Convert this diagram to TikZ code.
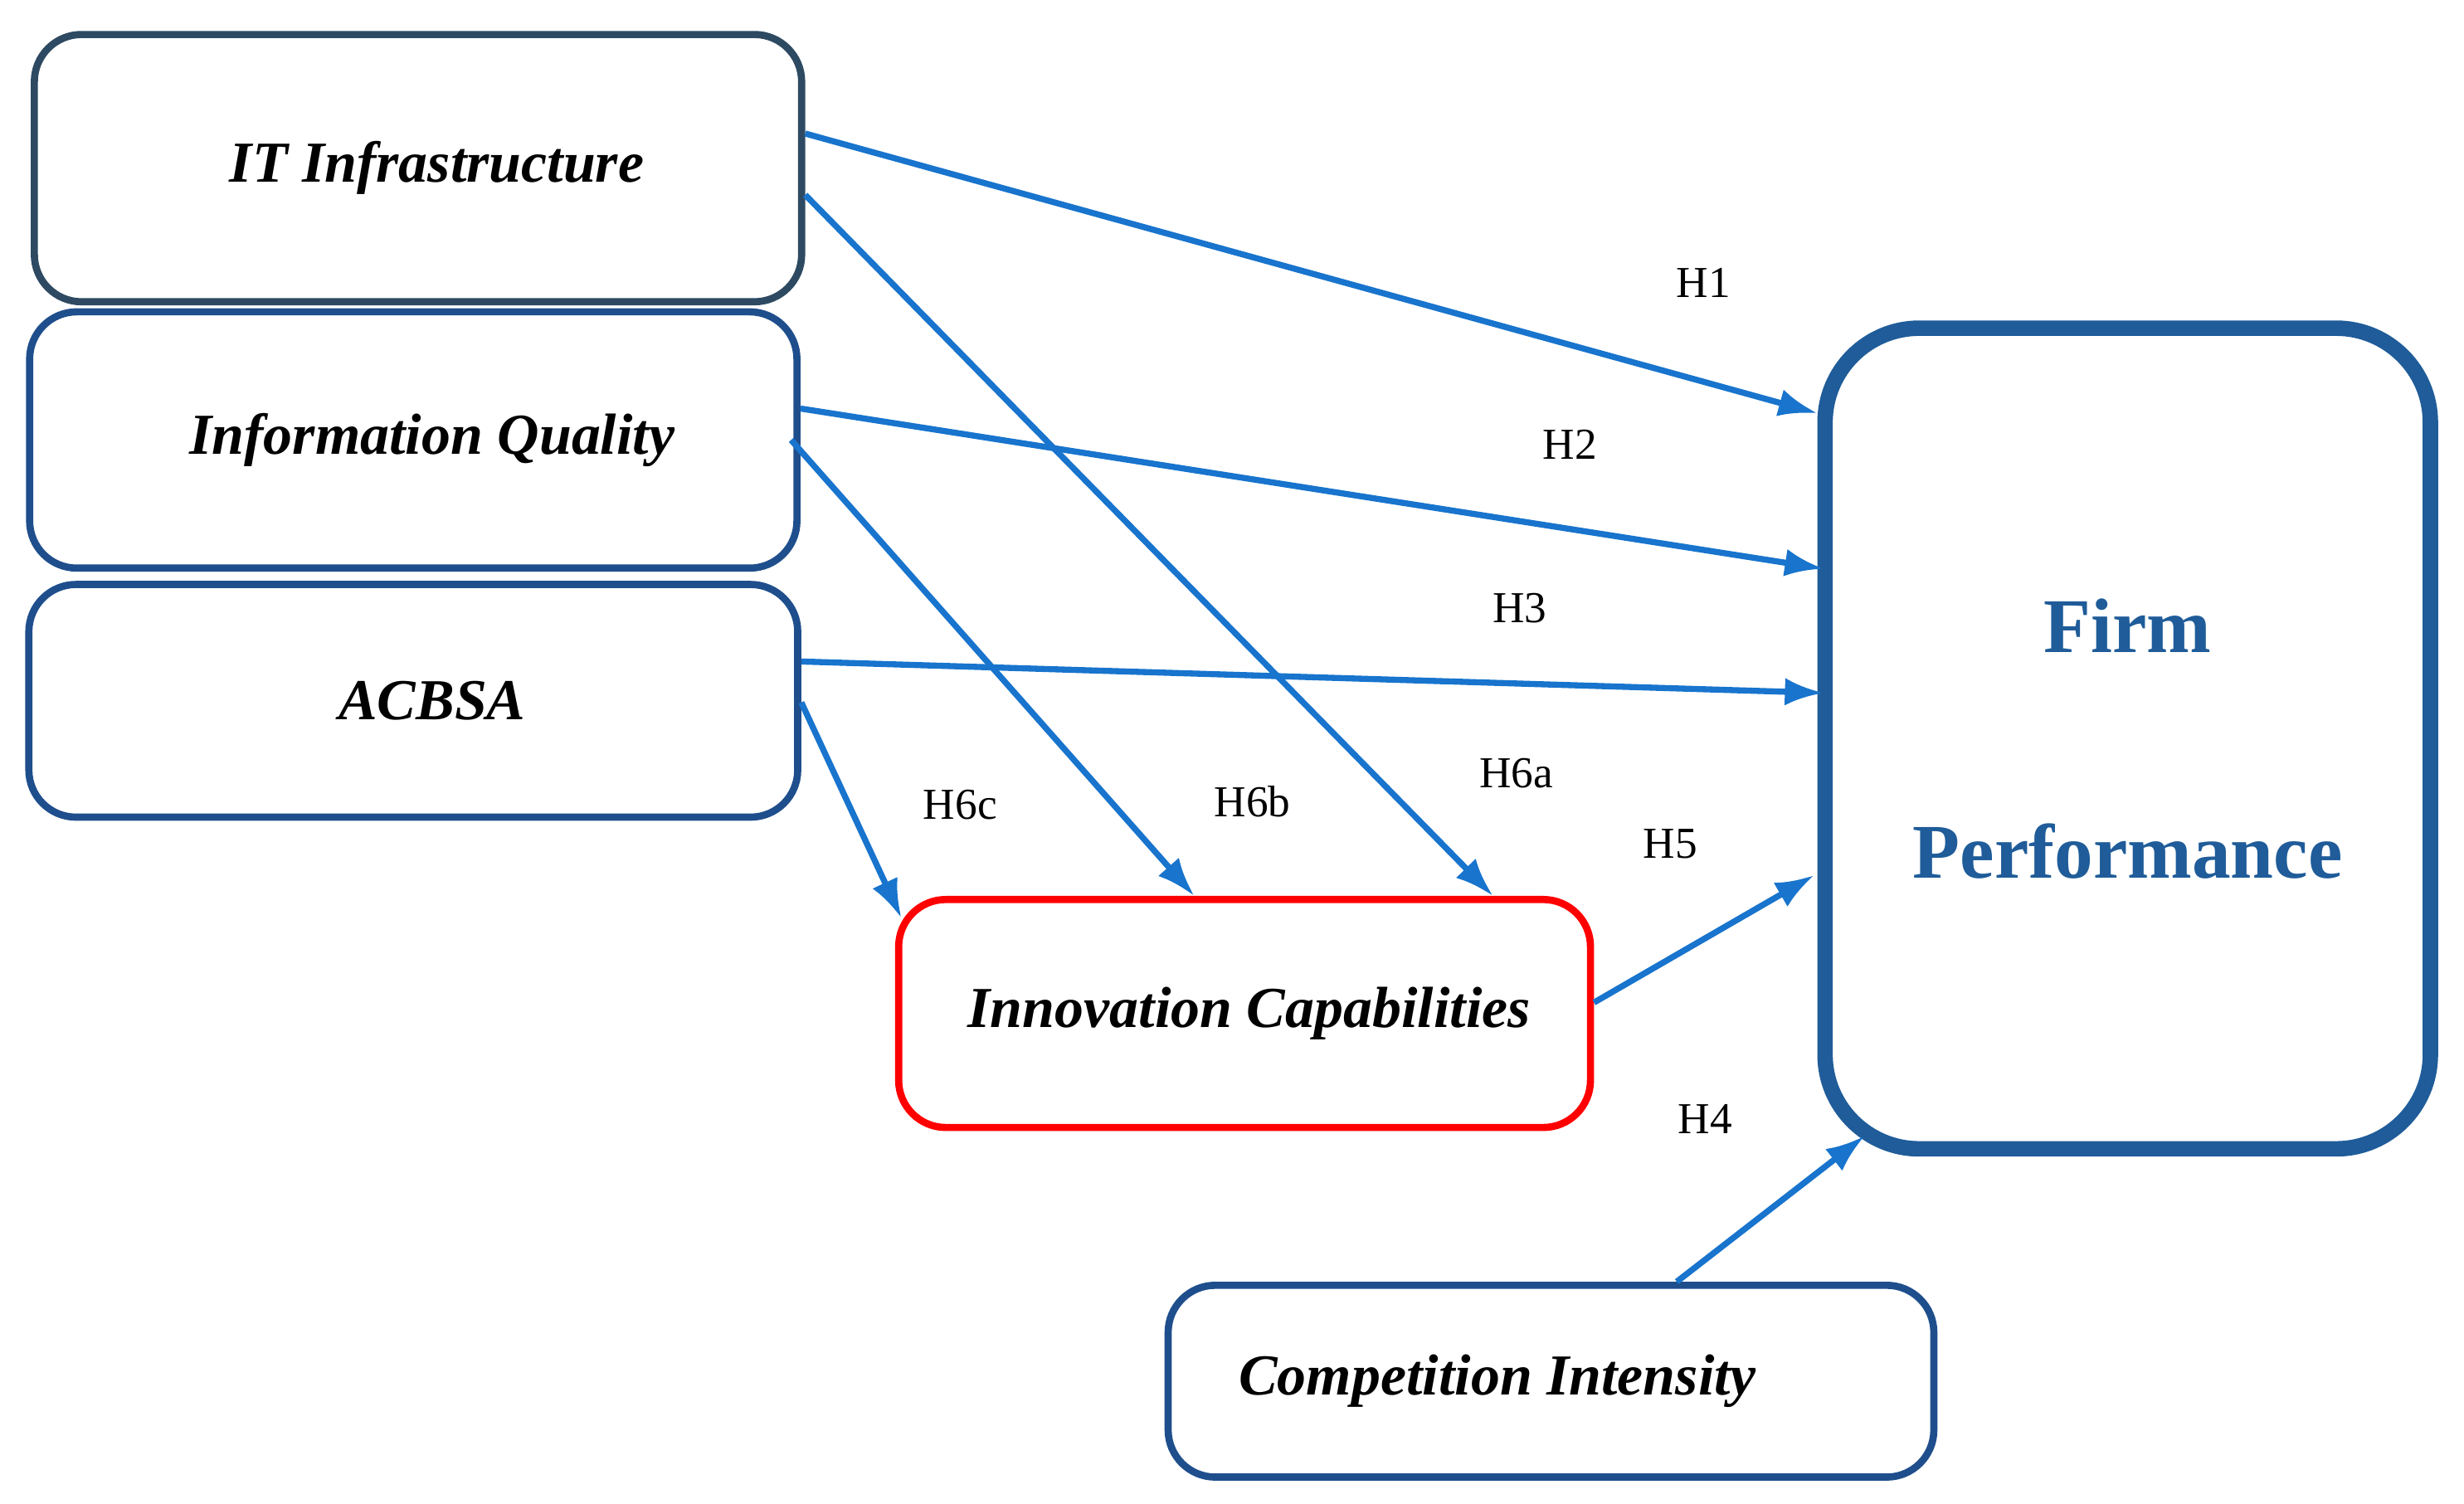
\documentclass[tikz,border=0pt]{standalone}
\usepackage{fontspec}
\setmainfont{Liberation Serif}
\usetikzlibrary{arrows.meta}
\definecolor{arr}{HTML}{1874CD}
\definecolor{bx}{HTML}{1F4E8C}
\definecolor{bx1}{HTML}{2E4A62}
\definecolor{fp}{HTML}{1F5C99}
\begin{document}
\begin{tikzpicture}[x=0.01cm,y=-0.01cm,
 box/.style={draw=bx,line width=1.3pt,rounded corners=0.3cm,inner sep=0pt,font=\fontsize{10.5}{12}\selectfont\bfseries\itshape},
 ar/.style={draw=arr,line width=1.1pt,-{Latex[length=7pt,width=5pt]}},
 lb/.style={font=\fontsize{8}{9}\selectfont}]
\useasboundingbox (0,0) rectangle (1568,957);
\node[box,draw=bx1,minimum width=4.88cm,minimum height=1.70cm] (it) at (266,107) {\raisebox{-0.06cm}{\hspace*{0.24cm}IT Infrastructure}};
\node[box,minimum width=4.88cm,minimum height=1.63cm] (iq) at (263,280) {\raisebox{-0.04cm}{\hspace*{0.24cm}Information Quality}};
\node[box,minimum width=4.89cm,minimum height=1.48cm] (ac) at (263,446) {\hspace*{0.24cm}ACBSA};
\node[box,draw=red,minimum width=4.40cm,minimum height=1.45cm] (ic) at (792,645) {\raisebox{-0.04cm}{\hspace*{0.06cm}Innovation Capabilities}};
\node[box,minimum width=4.87cm,minimum height=1.22cm] (ci) at (987,879) {\raisebox{-0.04cm}{Competition Intensity\hspace*{0.68cm}}};
\node[box,draw=fp,line width=2.8pt,rounded corners=0.6cm,minimum width=3.85cm,minimum height=5.22cm,text=fp,align=center,font=\fontsize{14}{38}\selectfont\bfseries] (fpn) at (1354,470) {Firm\\[0.1cm]Performance};
\draw[ar] ([yshift=0.22cm]it.east) -- ([yshift=-0.59cm]fpn.north west);
\draw[ar] ([yshift=0.2cm]iq.east) -- ([xshift=0.04cm,yshift=1.08cm]fpn.west);
\draw[ar] ([yshift=0.25cm]ac.east) -- ([xshift=0.04cm,yshift=0.29cm]fpn.west);
\draw[ar] ([yshift=-0.17cm]it.east) -- ([xshift=1.58cm]ic.north);
\draw[ar] ([xshift=-0.06cm]iq.east) -- ([xshift=-0.32cm]ic.north);
\draw[ar] ([yshift=-0.01cm]ac.east) -- ([xshift=0.04cm,yshift=-0.14cm]ic.north west);
\draw[ar] ([yshift=0.07cm]ic.east) -- ([xshift=-0.02cm,yshift=-0.87cm]fpn.west);
\draw[ar] ([xshift=0.8cm]ci.north) -- ([xshift=0.3cm,yshift=0.13cm]fpn.south west);
\node[lb] (h1) at (1084,180) {H1};
\node[lb] (h2) at (999,283) {H2};
\node[lb] (h3) at (967,387) {H3};
\node[lb] (h6a) at (965,492) {H6a};
\node[lb] (h6b) at (797,510) {H6b};
\node[lb] (h6c) at (611,512) {H6c};
\node[lb] (h5) at (1063,537) {H5};
\node[lb] (h4) at (1085,712) {H4};
\end{tikzpicture}
\end{document}
